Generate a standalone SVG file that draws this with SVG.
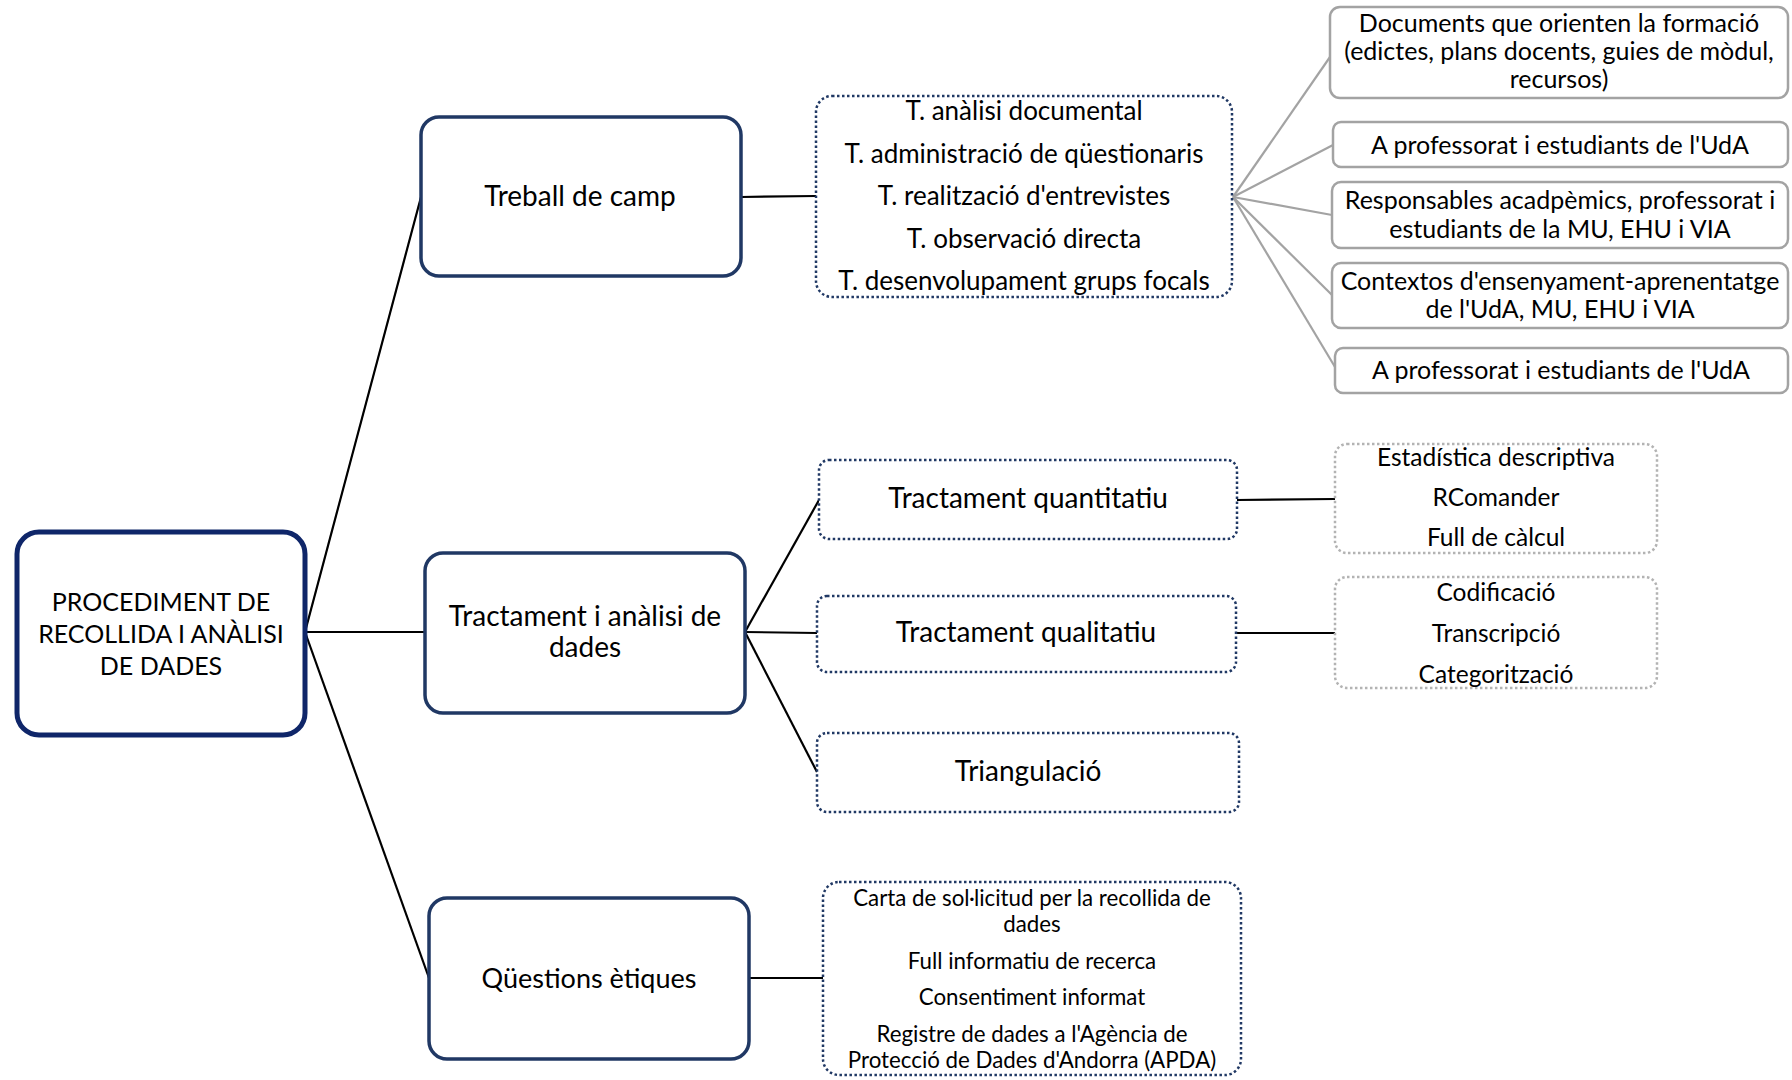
<svg xmlns="http://www.w3.org/2000/svg" width="1792" height="1080" viewBox="0 0 1792 1080">
  <style>
    text { font-family: Lato, "Liberation Sans", sans-serif; fill: #000; text-anchor: middle; }
    .t28 { font-size: 28px; }
    .t27 { font-size: 27px; }
    .t26 { font-size: 26px; }
    .t25 { font-size: 25px; }
    .t245 { font-size: 24.5px; }
    .t22 { font-size: 22.3px; }
    .root { fill: #fff; stroke: #0f2669; stroke-width: 5; }
    .main { fill: #fff; stroke: #203864; stroke-width: 3.5; }
    .dot { fill: #fff; stroke: #203864; stroke-width: 2.5; stroke-dasharray: 2.5 2.5; }
    .gray { fill: #fff; stroke: #a3a3a3; stroke-width: 2.5; }
    .graydot { fill: #fff; stroke: #b3b3b3; stroke-width: 2.5; stroke-dasharray: 2.5 2.5; }
    .link { stroke: #000; stroke-width: 2.2; fill: none; }
    .glink { stroke: #a3a3a3; stroke-width: 2.2; fill: none; }
  </style>

  <!-- connectors -->
  <g id="connectors">
    <line class="link" x1="305" y1="632" x2="421" y2="197"/>
    <line class="link" x1="305" y1="632" x2="425" y2="632"/>
    <line class="link" x1="305" y1="632" x2="429" y2="978"/>
    <line class="link" x1="741" y1="197" x2="816" y2="196"/>
    <line class="link" x1="745" y1="632" x2="819" y2="500"/>
    <line class="link" x1="745" y1="632" x2="817" y2="633"/>
    <line class="link" x1="745" y1="632" x2="817" y2="772"/>
    <line class="link" x1="1237" y1="500" x2="1335" y2="499"/>
    <line class="link" x1="1236" y1="633" x2="1335" y2="633"/>
    <line class="link" x1="749" y1="978" x2="823" y2="978"/>
    <line class="glink" x1="1233" y1="197" x2="1330" y2="57"/>
    <line class="glink" x1="1233" y1="197" x2="1333" y2="145"/>
    <line class="glink" x1="1233" y1="197" x2="1332" y2="215"/>
    <line class="glink" x1="1233" y1="197" x2="1332" y2="295"/>
    <line class="glink" x1="1233" y1="197" x2="1335" y2="367"/>
  </g>

  <!-- root node -->
  <g id="procediment">
    <rect class="root" x="17" y="532" width="288" height="203" rx="22"/>
    <text class="t25" x="161" y="611">PROCEDIMENT DE</text>
    <text class="t25" x="161" y="643">RECOLLIDA I ANÀLISI</text>
    <text class="t25" x="161" y="675">DE DADES</text>
  </g>

  <!-- level 1 -->
  <g id="treball-camp">
    <rect class="main" x="421" y="117" width="320" height="159" rx="18"/>
    <text class="t28" x="580" y="206">Treball de camp</text>
  </g>
  <g id="tractament-analisi">
    <rect class="main" x="425" y="553" width="320" height="160" rx="18"/>
    <text class="t28" x="585" y="626">Tractament i anàlisi de</text>
    <text class="t28" x="585" y="657">dades</text>
  </g>
  <g id="questions-etiques">
    <rect class="main" x="429" y="898" width="320" height="161" rx="18"/>
    <text class="t27" x="589" y="988">Qüestions ètiques</text>
  </g>

  <!-- level 2 -->
  <g id="tecniques">
    <rect class="dot" x="816" y="96" width="416" height="201" rx="16"/>
    <text class="t26" x="1024" y="120">T. anàlisi documental</text>
    <text class="t26" x="1024" y="163">T. administració de qüestionaris</text>
    <text class="t26" x="1024" y="205">T. realització d'entrevistes</text>
    <text class="t26" x="1024" y="248">T. observació directa</text>
    <text class="t26" x="1024" y="290">T. desenvolupament grups focals</text>
  </g>
  <g id="tractament-quantitatiu">
    <rect class="dot" x="819" y="460" width="418" height="79" rx="10"/>
    <text class="t28" x="1028" y="508">Tractament quantitatiu</text>
  </g>
  <g id="tractament-qualitatiu">
    <rect class="dot" x="817" y="596" width="419" height="76" rx="10"/>
    <text class="t28" x="1026" y="642">Tractament qualitatiu</text>
  </g>
  <g id="triangulacio">
    <rect class="dot" x="817" y="733" width="422" height="79" rx="10"/>
    <text class="t28" x="1028" y="781">Triangulació</text>
  </g>
  <g id="documents-etics">
    <rect class="dot" x="823" y="882" width="418" height="193" rx="16"/>
    <text class="t22" x="1032" y="906">Carta de sol·licitud per la recollida de</text>
    <text class="t22" x="1032" y="932">dades</text>
    <text class="t22" x="1032" y="969">Full informatiu de recerca</text>
    <text class="t22" x="1032" y="1005">Consentiment informat</text>
    <text class="t22" x="1032" y="1042">Registre de dades a l'Agència de</text>
    <text class="t22" x="1032" y="1068">Protecció de Dades d'Andorra (APDA)</text>
  </g>

  <!-- level 3: fieldwork sources -->
  <g id="font-documents">
    <rect class="gray" x="1330" y="7" width="458" height="91" rx="10"/>
    <text class="t25" x="1559" y="32">Documents que orienten la formació</text>
    <text class="t25" x="1559" y="60">(edictes, plans docents, guies de mòdul,</text>
    <text class="t25" x="1559" y="88">recursos)</text>
  </g>
  <g id="font-questionaris">
    <rect class="gray" x="1333" y="122" width="455" height="45" rx="8"/>
    <text class="t25" x="1560" y="154">A professorat i estudiants de l'UdA</text>
  </g>
  <g id="font-entrevistes">
    <rect class="gray" x="1332" y="182" width="456" height="66" rx="9"/>
    <text class="t25" x="1560" y="209">Responsables acadpèmics, professorat i</text>
    <text class="t25" x="1560" y="238">estudiants de la MU, EHU i VIA</text>
  </g>
  <g id="font-observacio">
    <rect class="gray" x="1332" y="263" width="456" height="65" rx="9"/>
    <text class="t25" x="1560" y="290">Contextos d'ensenyament-aprenentatge</text>
    <text class="t25" x="1560" y="318">de l'UdA, MU, EHU i VIA</text>
  </g>
  <g id="font-grups-focals">
    <rect class="gray" x="1335" y="348" width="453" height="45" rx="8"/>
    <text class="t25" x="1561" y="379">A professorat i estudiants de l'UdA</text>
  </g>

  <!-- level 3: analysis tools -->
  <g id="eines-quantitatives">
    <rect class="graydot" x="1335" y="444" width="322" height="109" rx="12"/>
    <text class="t245" x="1496" y="466">Estadística descriptiva</text>
    <text class="t245" x="1496" y="506">RComander</text>
    <text class="t245" x="1496" y="546">Full de càlcul</text>
  </g>
  <g id="eines-qualitatives">
    <rect class="graydot" x="1335" y="577" width="322" height="111" rx="12"/>
    <text class="t245" x="1496" y="601">Codificació</text>
    <text class="t245" x="1496" y="642">Transcripció</text>
    <text class="t245" x="1496" y="683">Categorització</text>
  </g>
</svg>
